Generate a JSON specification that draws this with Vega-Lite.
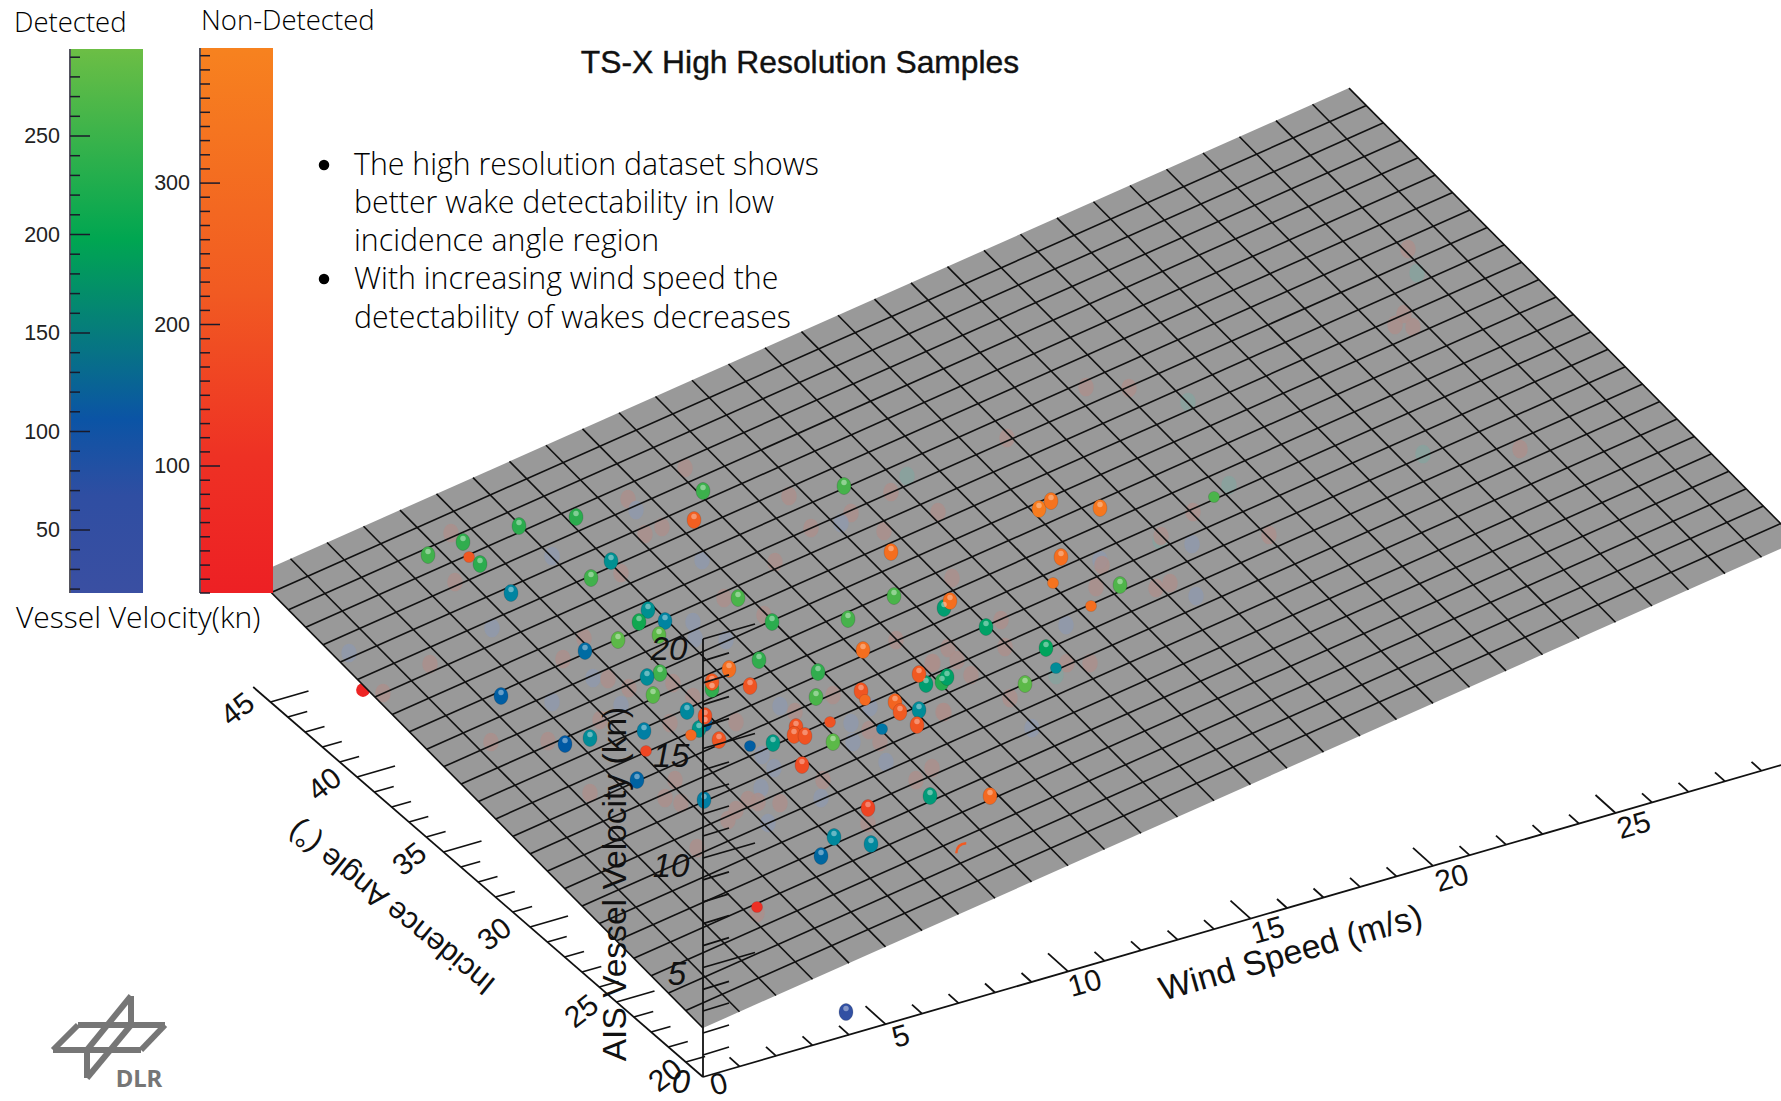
{"$schema":"https://vega.github.io/schema/vega-lite/v6.json","width":1781,"height":1101,"autosize":{"type":"none"},"padding":0,"background":"white","view":{"stroke":null},
"datasets":{
"gridRows":[
{"px":254,"py":575,"px2":703,"py2":1028},{"px":290.5,"py":558.8,"px2":739.5,"py2":1011.8},{"px":327,"py":542.5,"px2":776,"py2":995.5},{"px":363.5,"py":526.3,"px2":812.5,"py2":979.3},{"px":400,"py":510.1,"px2":849,"py2":963.1},{"px":436.5,"py":493.9,"px2":885.5,"py2":946.9},{"px":473,"py":477.6,"px2":922,"py2":930.6},{"px":509.5,"py":461.4,"px2":958.5,"py2":914.4},{"px":546,"py":445.2,"px2":995,"py2":898.2},{"px":582.5,"py":428.9,"px2":1031.5,"py2":881.9},{"px":619,"py":412.7,"px2":1068,"py2":865.7},{"px":655.5,"py":396.5,"px2":1104.5,"py2":849.5},{"px":692,"py":380.2,"px2":1141,"py2":833.2},{"px":728.5,"py":364,"px2":1177.5,"py2":817},{"px":765,"py":347.8,"px2":1214,"py2":800.8},{"px":801.5,"py":331.6,"px2":1250.5,"py2":784.6},{"px":838,"py":315.3,"px2":1287,"py2":768.3},{"px":874.5,"py":299.1,"px2":1323.5,"py2":752.1},{"px":911,"py":282.9,"px2":1360,"py2":735.9},{"px":947.5,"py":266.6,"px2":1396.5,"py2":719.6},{"px":984,"py":250.4,"px2":1433,"py2":703.4},{"px":1020.5,"py":234.2,"px2":1469.5,"py2":687.2},{"px":1057,"py":217.9,"px2":1506,"py2":670.9},{"px":1093.5,"py":201.7,"px2":1542.5,"py2":654.7},{"px":1130,"py":185.5,"px2":1579,"py2":638.5},{"px":1166.5,"py":169.3,"px2":1615.5,"py2":622.3},{"px":1203,"py":153,"px2":1652,"py2":606},{"px":1239.5,"py":136.8,"px2":1688.5,"py2":589.8},{"px":1276,"py":120.6,"px2":1725,"py2":573.6},{"px":1312.5,"py":104.3,"px2":1761.5,"py2":557.3},{"px":1349,"py":88.1,"px2":1798,"py2":541.1},
{"px":271.3,"py":592.4,"px2":1366.3,"py2":105.4},{"px":288.5,"py":609.8,"px2":1383.5,"py2":122.8},{"px":305.8,"py":627.3,"px2":1400.8,"py2":140.3},{"px":323.1,"py":644.7,"px2":1418.1,"py2":157.7},{"px":340.4,"py":662.1,"px2":1435.4,"py2":175.1},{"px":357.6,"py":679.5,"px2":1452.6,"py2":192.5},{"px":374.9,"py":696.9,"px2":1469.9,"py2":209.9},{"px":392.2,"py":714.4,"px2":1487.2,"py2":227.4},{"px":409.4,"py":731.8,"px2":1504.4,"py2":244.8},{"px":426.7,"py":749.2,"px2":1521.7,"py2":262.2},{"px":444,"py":766.6,"px2":1539,"py2":279.6},{"px":461.2,"py":784,"px2":1556.2,"py2":297},{"px":478.5,"py":801.5,"px2":1573.5,"py2":314.5},{"px":495.8,"py":818.9,"px2":1590.8,"py2":331.9},{"px":513.1,"py":836.3,"px2":1608.1,"py2":349.3},{"px":530.3,"py":853.7,"px2":1625.3,"py2":366.7},{"px":547.6,"py":871.1,"px2":1642.6,"py2":384.1},{"px":564.9,"py":888.6,"px2":1659.9,"py2":401.6},{"px":582.1,"py":906,"px2":1677.1,"py2":419},{"px":599.4,"py":923.4,"px2":1694.4,"py2":436.4},{"px":616.7,"py":940.8,"px2":1711.7,"py2":453.8},{"px":633.9,"py":958.2,"px2":1728.9,"py2":471.2},{"px":651.2,"py":975.7,"px2":1746.2,"py2":488.7},{"px":668.5,"py":993.1,"px2":1763.5,"py2":506.1},{"px":685.8,"py":1010.5,"px2":1780.8,"py2":523.5}
],
"axisRows":[
{"px":703,"py":1077,"px2":1798,"py2":760.2},{"px":703,"py":1077,"px2":253.2,"py2":687},{"px":703,"py":1077,"px2":703,"py2":639},
{"px":739.5,"py":1066.4,"px2":729.5,"py2":1057.4},{"px":776,"py":1055.9,"px2":766,"py2":1046.9},{"px":812.5,"py":1045.3,"px2":802.5,"py2":1036.3},{"px":849,"py":1034.8,"px2":839,"py2":1025.8},{"px":885.5,"py":1024.2,"px2":865.5,"py2":1006.2},{"px":922,"py":1013.6,"px2":912,"py2":1004.6},{"px":958.5,"py":1003.1,"px2":948.5,"py2":994.1},{"px":995,"py":992.5,"px2":985,"py2":983.5},{"px":1031.5,"py":982,"px2":1021.5,"py2":973},{"px":1068,"py":971.4,"px2":1048,"py2":953.4},{"px":1104.5,"py":960.8,"px2":1094.5,"py2":951.8},{"px":1141,"py":950.3,"px2":1131,"py2":941.3},{"px":1177.5,"py":939.7,"px2":1167.5,"py2":930.7},{"px":1214,"py":929.2,"px2":1204,"py2":920.2},{"px":1250.5,"py":918.6,"px2":1230.5,"py2":900.6},{"px":1287,"py":908,"px2":1277,"py2":899},{"px":1323.5,"py":897.5,"px2":1313.5,"py2":888.5},{"px":1360,"py":886.9,"px2":1350,"py2":877.9},{"px":1396.5,"py":876.4,"px2":1386.5,"py2":867.4},{"px":1433,"py":865.8,"px2":1413,"py2":847.8},{"px":1469.5,"py":855.2,"px2":1459.5,"py2":846.2},{"px":1506,"py":844.7,"px2":1496,"py2":835.7},{"px":1542.5,"py":834.1,"px2":1532.5,"py2":825.1},{"px":1579,"py":823.6,"px2":1569,"py2":814.6},{"px":1615.5,"py":813,"px2":1595.5,"py2":795},{"px":1652,"py":802.4,"px2":1642,"py2":793.4},{"px":1688.5,"py":791.9,"px2":1678.5,"py2":782.9},{"px":1725,"py":781.3,"px2":1715,"py2":772.3},{"px":1761.5,"py":770.8,"px2":1751.5,"py2":761.8},
{"px":685.7,"py":1062,"px2":705.1,"py2":1056.5},{"px":668.4,"py":1047,"px2":687.8,"py2":1041.5},{"px":651.1,"py":1032,"px2":670.5,"py2":1026.5},{"px":633.8,"py":1017,"px2":653.2,"py2":1011.5},{"px":616.5,"py":1002,"px2":654.5,"py2":991},{"px":599.2,"py":987,"px2":618.6,"py2":981.5},{"px":581.9,"py":972,"px2":601.3,"py2":966.5},{"px":564.6,"py":957,"px2":584,"py2":951.5},{"px":547.3,"py":942,"px2":566.7,"py2":936.5},{"px":530,"py":927,"px2":568,"py2":916},{"px":512.7,"py":912,"px2":532.1,"py2":906.5},{"px":495.4,"py":897,"px2":514.8,"py2":891.5},{"px":478.1,"py":882,"px2":497.5,"py2":876.5},{"px":460.8,"py":867,"px2":480.2,"py2":861.5},{"px":443.5,"py":852,"px2":481.5,"py2":841},{"px":426.2,"py":837,"px2":445.6,"py2":831.5},{"px":408.9,"py":822,"px2":428.3,"py2":816.5},{"px":391.6,"py":807,"px2":411,"py2":801.5},{"px":374.3,"py":792,"px2":393.7,"py2":786.5},{"px":357,"py":777,"px2":395,"py2":766},{"px":339.7,"py":762,"px2":359.1,"py2":756.5},{"px":322.4,"py":747,"px2":341.8,"py2":741.5},{"px":305.1,"py":732,"px2":324.5,"py2":726.5},{"px":287.8,"py":717,"px2":307.2,"py2":711.5},{"px":270.5,"py":702,"px2":308.5,"py2":691},
{"px":703,"py":1055,"px2":729,"py2":1047},{"px":703,"py":1033,"px2":729,"py2":1025},{"px":703,"py":1011,"px2":729,"py2":1003},{"px":703,"py":989.4,"px2":729,"py2":981.4},{"px":703,"py":967.5,"px2":755,"py2":952.5},{"px":703,"py":945.6,"px2":729,"py2":937.6},{"px":703,"py":923.7,"px2":729,"py2":915.7},{"px":703,"py":901.8,"px2":729,"py2":893.8},{"px":703,"py":879.9,"px2":729,"py2":871.9},{"px":703,"py":858,"px2":755,"py2":843},{"px":703,"py":836,"px2":729,"py2":828},{"px":703,"py":814,"px2":729,"py2":806},{"px":703,"py":792,"px2":729,"py2":784},{"px":703,"py":770,"px2":729,"py2":762},{"px":703,"py":748.5,"px2":755,"py2":733.5},{"px":703,"py":726.6,"px2":729,"py2":718.6},{"px":703,"py":704.7,"px2":729,"py2":696.7},{"px":703,"py":682.8,"px2":729,"py2":674.8},{"px":703,"py":660.9,"px2":729,"py2":652.9},{"px":703,"py":639,"px2":755,"py2":624}
],
"barTicks":[
{"px":70,"py":49,"px2":70,"py2":593},{"px":200,"py":48,"px2":200,"py2":593},
{"px":70,"py":57.2,"px2":80,"py2":57.2},{"px":70,"py":76.9,"px2":80,"py2":76.9},{"px":70,"py":96.6,"px2":80,"py2":96.6},{"px":70,"py":116.3,"px2":80,"py2":116.3},{"px":70,"py":136,"px2":90,"py2":136},{"px":70,"py":155.7,"px2":80,"py2":155.7},{"px":70,"py":175.4,"px2":80,"py2":175.4},{"px":70,"py":195.1,"px2":80,"py2":195.1},{"px":70,"py":214.8,"px2":80,"py2":214.8},{"px":70,"py":234.5,"px2":90,"py2":234.5},{"px":70,"py":254.2,"px2":80,"py2":254.2},{"px":70,"py":273.9,"px2":80,"py2":273.9},{"px":70,"py":293.6,"px2":80,"py2":293.6},{"px":70,"py":313.3,"px2":80,"py2":313.3},{"px":70,"py":333,"px2":90,"py2":333},{"px":70,"py":352.7,"px2":80,"py2":352.7},{"px":70,"py":372.4,"px2":80,"py2":372.4},{"px":70,"py":392.1,"px2":80,"py2":392.1},{"px":70,"py":411.8,"px2":80,"py2":411.8},{"px":70,"py":431.5,"px2":90,"py2":431.5},{"px":70,"py":451.2,"px2":80,"py2":451.2},{"px":70,"py":470.9,"px2":80,"py2":470.9},{"px":70,"py":490.6,"px2":80,"py2":490.6},{"px":70,"py":510.3,"px2":80,"py2":510.3},{"px":70,"py":530,"px2":90,"py2":530},{"px":70,"py":549.7,"px2":80,"py2":549.7},{"px":70,"py":569.4,"px2":80,"py2":569.4},{"px":70,"py":589.1,"px2":80,"py2":589.1},
{"px":200,"py":55.7,"px2":210,"py2":55.7},{"px":200,"py":69.9,"px2":210,"py2":69.9},{"px":200,"py":84,"px2":210,"py2":84},{"px":200,"py":98.2,"px2":210,"py2":98.2},{"px":200,"py":112.3,"px2":210,"py2":112.3},{"px":200,"py":126.5,"px2":210,"py2":126.5},{"px":200,"py":140.6,"px2":210,"py2":140.6},{"px":200,"py":154.8,"px2":210,"py2":154.8},{"px":200,"py":168.9,"px2":210,"py2":168.9},{"px":200,"py":183.1,"px2":220,"py2":183.1},{"px":200,"py":197.2,"px2":210,"py2":197.2},{"px":200,"py":211.4,"px2":210,"py2":211.4},{"px":200,"py":225.5,"px2":210,"py2":225.5},{"px":200,"py":239.7,"px2":210,"py2":239.7},{"px":200,"py":253.8,"px2":210,"py2":253.8},{"px":200,"py":268,"px2":210,"py2":268},{"px":200,"py":282.1,"px2":210,"py2":282.1},{"px":200,"py":296.3,"px2":210,"py2":296.3},{"px":200,"py":310.4,"px2":210,"py2":310.4},{"px":200,"py":324.5,"px2":220,"py2":324.5},{"px":200,"py":338.7,"px2":210,"py2":338.7},{"px":200,"py":352.8,"px2":210,"py2":352.8},{"px":200,"py":367,"px2":210,"py2":367},{"px":200,"py":381.1,"px2":210,"py2":381.1},{"px":200,"py":395.3,"px2":210,"py2":395.3},{"px":200,"py":409.4,"px2":210,"py2":409.4},{"px":200,"py":423.6,"px2":210,"py2":423.6},{"px":200,"py":437.7,"px2":210,"py2":437.7},{"px":200,"py":451.9,"px2":210,"py2":451.9},{"px":200,"py":466,"px2":220,"py2":466},{"px":200,"py":480.2,"px2":210,"py2":480.2},{"px":200,"py":494.3,"px2":210,"py2":494.3},{"px":200,"py":508.5,"px2":210,"py2":508.5},{"px":200,"py":522.6,"px2":210,"py2":522.6},{"px":200,"py":536.8,"px2":210,"py2":536.8},{"px":200,"py":550.9,"px2":210,"py2":550.9},{"px":200,"py":565.1,"px2":210,"py2":565.1},{"px":200,"py":579.2,"px2":210,"py2":579.2},{"px":200,"py":593,"px2":210,"py2":593}
],
"logoRows":[
{"px":53,"py":1050,"px2":78,"py2":1025},{"px":78,"py":1025,"px2":165,"py2":1025},{"px":165,"py":1025,"px2":141,"py2":1050},{"px":141,"py":1050,"px2":53,"py2":1050},{"px":131,"py":996,"px2":87,"py2":1050},{"px":131,"py":996,"px2":131,"py2":1025},{"px":87,"py":1050,"px2":87,"py2":1078},{"px":87,"py":1078,"px2":131,"py2":1025}
],
"ghosts":[
{"px":685,"py":468,"hue":"non"},{"px":628,"py":499,"hue":"non"},{"px":636,"py":510,"hue":"blue"},{"px":645,"py":534,"hue":"non"},{"px":662,"py":527,"hue":"non"},{"px":789,"py":496,"hue":"non"},{"px":907,"py":476,"hue":"teal"},{"px":891,"py":492,"hue":"non"},{"px":851,"py":513,"hue":"non"},{"px":841,"py":523,"hue":"blue"},{"px":811,"py":528,"hue":"non"},{"px":884,"py":531,"hue":"non"},{"px":938,"py":512,"hue":"non"},{"px":451,"py":533,"hue":"non"},{"px":455,"py":582,"hue":"non"},{"px":552,"py":556,"hue":"blue"},{"px":621,"py":573,"hue":"non"},{"px":702,"py":560,"hue":"blue"},{"px":775,"py":562,"hue":"non"},{"px":724,"py":598,"hue":"non"},{"px":764,"py":615,"hue":"non"},{"px":693,"py":622,"hue":"blue"},{"px":952,"py":578,"hue":"non"},{"px":1001,"py":620,"hue":"non"},{"px":896,"py":640,"hue":"non"},{"px":948,"py":648,"hue":"non"},{"px":932,"py":663,"hue":"non"},{"px":957,"py":660,"hue":"non"},{"px":971,"py":675,"hue":"non"},{"px":1005,"py":647,"hue":"non"},{"px":492,"py":628,"hue":"blue"},{"px":430,"py":664,"hue":"non"},{"px":563,"py":659,"hue":"non"},{"px":584,"py":638,"hue":"non"},{"px":593,"py":678,"hue":"blue"},{"px":608,"py":679,"hue":"non"},{"px":629,"py":688,"hue":"non"},{"px":695,"py":638,"hue":"blue"},{"px":726,"py":640,"hue":"blue"},{"px":673,"py":683,"hue":"non"},{"px":693,"py":697,"hue":"non"},{"px":552,"py":702,"hue":"blue"},{"px":621,"py":705,"hue":"blue"},{"px":600,"py":720,"hue":"non"},{"px":548,"py":741,"hue":"non"},{"px":491,"py":742,"hue":"non"},{"px":736,"py":722,"hue":"non"},{"px":670,"py":723,"hue":"non"},{"px":780,"py":706,"hue":"blue"},{"px":795,"py":712,"hue":"non"},{"px":833,"py":695,"hue":"non"},{"px":870,"py":707,"hue":"blue"},{"px":851,"py":723,"hue":"blue"},{"px":869,"py":730,"hue":"non"},{"px":853,"py":742,"hue":"blue"},{"px":880,"py":742,"hue":"non"},{"px":886,"py":762,"hue":"blue"},{"px":944,"py":712,"hue":"non"},{"px":762,"py":755,"hue":"blue"},{"px":774,"py":768,"hue":"blue"},{"px":932,"py":768,"hue":"non"},{"px":916,"py":780,"hue":"non"},{"px":823,"py":780,"hue":"non"},{"px":821,"py":798,"hue":"blue"},{"px":761,"py":788,"hue":"blue"},{"px":675,"py":780,"hue":"non"},{"px":590,"py":793,"hue":"non"},{"px":665,"py":798,"hue":"non"},{"px":681,"py":803,"hue":"non"},{"px":748,"py":800,"hue":"non"},{"px":758,"py":802,"hue":"non"},{"px":780,"py":803,"hue":"non"},{"px":736,"py":810,"hue":"non"},{"px":728,"py":820,"hue":"non"},{"px":768,"py":823,"hue":"blue"},{"px":868,"py":823,"hue":"non"},{"px":697,"py":848,"hue":"non"},{"px":1408,"py":249,"hue":"non"},{"px":1417,"py":273,"hue":"teal"},{"px":1404,"py":314,"hue":"non"},{"px":1395,"py":325,"hue":"non"},{"px":1413,"py":327,"hue":"non"},{"px":1086,"py":387,"hue":"non"},{"px":1129,"py":388,"hue":"non"},{"px":1188,"py":402,"hue":"teal"},{"px":1007,"py":438,"hue":"non"},{"px":1423,"py":454,"hue":"teal"},{"px":1520,"py":449,"hue":"non"},{"px":1229,"py":485,"hue":"teal"},{"px":1193,"py":512,"hue":"non"},{"px":1160,"py":540,"hue":"teal"},{"px":1192,"py":544,"hue":"blue"},{"px":1269,"py":535,"hue":"non"},{"px":1100,"py":560,"hue":"blue"},{"px":1032,"py":728,"hue":"blue"},{"px":1010,"py":698,"hue":"non"},{"px":943,"py":712,"hue":"non"},{"px":1090,"py":663,"hue":"non"},{"px":1067,"py":663,"hue":"non"},{"px":1056,"py":675,"hue":"teal"},{"px":933,"py":663,"hue":"non"},{"px":1156,"py":588,"hue":"non"},{"px":1170,"py":583,"hue":"non"},{"px":1196,"py":596,"hue":"blue"},{"px":1102,"py":565,"hue":"non"},{"px":1096,"py":587,"hue":"non"},{"px":1161,"py":536,"hue":"non"},{"px":1066,"py":625,"hue":"blue"},{"px":349,"py":653,"hue":"blue"},{"px":383,"py":693,"hue":"non"},{"px":757,"py":913,"hue":"non"}
],
"detected":[
{"px":428,"py":555,"velocity":240},{"px":463,"py":542,"velocity":225},{"px":480,"py":564,"velocity":220},{"px":519,"py":526,"velocity":220},{"px":576,"py":517,"velocity":220},{"px":703,"py":491,"velocity":235},{"px":844,"py":486,"velocity":245},{"px":611,"py":561,"velocity":165},{"px":591,"py":578,"velocity":240},{"px":511,"py":593,"velocity":150},{"px":738,"py":598,"velocity":250},{"px":894,"py":596,"velocity":250},{"px":944,"py":608,"velocity":185},{"px":986,"py":627,"velocity":190},{"px":848,"py":619,"velocity":245},{"px":772,"py":622,"velocity":220},{"px":648,"py":610,"velocity":165},{"px":639,"py":622,"velocity":205},{"px":665,"py":621,"velocity":150},{"px":659,"py":635,"velocity":270},{"px":618,"py":640,"velocity":270},{"px":585,"py":651,"velocity":125},{"px":759,"py":660,"velocity":225},{"px":818,"py":672,"velocity":225},{"px":660,"py":673,"velocity":240},{"px":647,"py":677,"velocity":160},{"px":926,"py":684,"velocity":185},{"px":942,"py":682,"velocity":215},{"px":947,"py":677,"velocity":190},{"px":712,"py":689,"velocity":225},{"px":653,"py":695,"velocity":265},{"px":501,"py":696,"velocity":110},{"px":816,"py":697,"velocity":250},{"px":919,"py":710,"velocity":160},{"px":687,"py":711,"velocity":155},{"px":705,"py":723,"velocity":115},{"px":699,"py":729,"velocity":170},{"px":644,"py":731,"velocity":145},{"px":590,"py":738,"velocity":160},{"px":565,"py":744,"velocity":105},{"px":773,"py":743,"velocity":175},{"px":833,"py":742,"velocity":270},{"px":637,"py":780,"velocity":115},{"px":704,"py":800,"velocity":145},{"px":930,"py":796,"velocity":180},{"px":834,"py":837,"velocity":155},{"px":871,"py":844,"velocity":155},{"px":821,"py":856,"velocity":120},{"px":1025,"py":684,"velocity":270},{"px":1046,"py":648,"velocity":195},{"px":1120,"py":585,"velocity":255},{"px":846,"py":1012,"velocity":40}
],
"detectedSmall":[
{"px":882,"py":729,"velocity":135},{"px":750,"py":746,"velocity":110},{"px":1056,"py":668,"velocity":160},{"px":1214,"py":497,"velocity":250}
],
"nonDetected":[
{"px":694,"py":520,"velocity":310},{"px":891,"py":552,"velocity":340},{"px":950,"py":601,"velocity":340},{"px":863,"py":650,"velocity":340},{"px":729,"py":669,"velocity":340},{"px":750,"py":686,"velocity":260},{"px":919,"py":674,"velocity":300},{"px":712,"py":682,"velocity":300},{"px":861,"py":691,"velocity":270},{"px":895,"py":702,"velocity":320},{"px":900,"py":712,"velocity":300},{"px":705,"py":716,"velocity":230},{"px":917,"py":725,"velocity":270},{"px":719,"py":740,"velocity":270},{"px":796,"py":727,"velocity":250},{"px":794,"py":735,"velocity":270},{"px":805,"py":736,"velocity":250},{"px":802,"py":765,"velocity":210},{"px":990,"py":796,"velocity":330},{"px":868,"py":808,"velocity":170},{"px":1061,"py":557,"velocity":340},{"px":1039,"py":509,"velocity":370},{"px":1051,"py":501,"velocity":350},{"px":1100,"py":508,"velocity":360}
],
"nonDetectedSmall":[
{"px":469,"py":557,"velocity":280},{"px":865,"py":700,"velocity":330},{"px":691,"py":735,"velocity":330},{"px":830,"py":722,"velocity":250},{"px":646,"py":751,"velocity":180},{"px":1053,"py":583,"velocity":350},{"px":1091,"py":606,"velocity":340},{"px":757,"py":907,"velocity":90}
]
},
"encoding":{
"x":{"field":"px","type":"quantitative","scale":{"domain":[0,1781],"nice":false,"zero":false},"axis":null},
"y":{"field":"py","type":"quantitative","scale":{"domain":[1101,0],"nice":false,"zero":false},"axis":null}
},
"layer":[
{"data":{"values":[{"px":363,"py":690,"velocity":30}]},"mark":{"type":"point","filled":true,"opacity":1,"size":190},"encoding":{"color":{"field":"velocity","type":"quantitative","legend":null,"scale":{"domain":[10,100,200,300,390],"range":["#ED2024","#EE3124","#EF4A23","#F15A22","#F8851F"]}}}},
{"data":{"values":[{"px":254,"py":575,"pyTop":575},{"px":703,"py":375.3,"pyTop":1028},{"px":1349,"py":88,"pyTop":740.7},{"px":1798,"py":541,"pyTop":541}]},"mark":{"type":"area","color":"#999999","opacity":1,"clip":true},"encoding":{"y2":{"field":"pyTop"}}},
{"data":{"name":"ghosts"},"mark":{"type":"point","filled":true,"opacity":0.8,"size":290,"shape":"M0,-1.1 A0.9,1.1 0 1 1 0,1.1 A0.9,1.1 0 1 1 0,-1.1 Z"},"encoding":{"color":{"field":"hue","type":"nominal","legend":null,"scale":{"domain":["non","blue","teal"],"range":["#ab8f8b","#8f98ad","#86a29d"]}}}},
{"data":{"name":"gridRows"},"mark":{"type":"rule","color":"#111111","strokeWidth":1.6,"clip":true},"encoding":{"x2":{"field":"px2"},"y2":{"field":"py2"}}},
{"data":{"name":"detected"},"mark":{"type":"point","filled":true,"opacity":1,"size":240,"shape":"M0,-1.1 A0.9,1.1 0 1 1 0,1.1 A0.9,1.1 0 1 1 0,-1.1 Z","stroke":"#000","strokeOpacity":0.15,"strokeWidth":1},"encoding":{"color":{"field":"velocity","type":"quantitative","legend":null,"scale":{"domain":[20,100,120,200,290],"range":["#3A4FA2","#0B54A5","#0067A0","#00A651","#6CBE45"]}}}},
{"data":{"name":"detectedSmall"},"mark":{"type":"point","filled":true,"opacity":1,"size":125,"stroke":"#000","strokeOpacity":0.12,"strokeWidth":1},"encoding":{"color":{"field":"velocity","type":"quantitative","legend":null,"scale":{"domain":[20,100,120,200,290],"range":["#3A4FA2","#0B54A5","#0067A0","#00A651","#6CBE45"]}}}},
{"data":{"name":"nonDetected"},"mark":{"type":"point","filled":true,"opacity":1,"size":240,"shape":"M0,-1.1 A0.9,1.1 0 1 1 0,1.1 A0.9,1.1 0 1 1 0,-1.1 Z","stroke":"#000","strokeOpacity":0.12,"strokeWidth":1},"encoding":{"color":{"field":"velocity","type":"quantitative","legend":null,"scale":{"domain":[10,100,200,300,390],"range":["#ED2024","#EE3124","#EF4A23","#F15A22","#F8851F"]}}}},
{"data":{"name":"nonDetectedSmall"},"mark":{"type":"point","filled":true,"opacity":1,"size":125,"stroke":"#000","strokeOpacity":0.1,"strokeWidth":1},"encoding":{"color":{"field":"velocity","type":"quantitative","legend":null,"scale":{"domain":[10,100,200,300,390],"range":["#ED2024","#EE3124","#EF4A23","#F15A22","#F8851F"]}}}},
{"data":{"name":"detected"},"mark":{"type":"point","filled":true,"color":"#ffffff","opacity":0.4,"size":30,"yOffset":-3.5}},
{"data":{"name":"nonDetected"},"mark":{"type":"point","filled":true,"color":"#ffffff","opacity":0.35,"size":30,"yOffset":-3.5}},
{"data":{"values":[{"px":961,"py":848}]},"mark":{"type":"point","filled":false,"shape":"M -0.9 1 Q -0.8 -0.8 1 -0.9","color":"#F15A22","strokeWidth":2.5,"opacity":1,"size":110}},
{"data":{"name":"axisRows"},"mark":{"type":"rule","color":"#111","strokeWidth":1.8},"encoding":{"x2":{"field":"px2"},"y2":{"field":"py2"}}},
{"data":{"values":[{"px":719,"py":1085,"label":"0"},{"px":901,"py":1037,"label":"5"},{"px":1085,"py":984,"label":"10"},{"px":1268,"py":931,"label":"15"},{"px":1452,"py":879,"label":"20"},{"px":1634,"py":826,"label":"25"}]},"mark":{"type":"text","font":"Liberation Sans","fontSize":30,"angle":344,"color":"#111","baseline":"middle","align":"center"},"encoding":{"text":{"field":"label"}}},
{"data":{"values":[{"px":238,"py":710,"label":"45"},{"px":325,"py":785,"label":"40"},{"px":410,"py":860,"label":"35"},{"px":495,"py":935,"label":"30"},{"px":582,"py":1012,"label":"25"},{"px":666,"py":1076,"label":"20"}]},"mark":{"type":"text","font":"Liberation Sans","fontSize":30,"angle":322,"color":"#111","baseline":"middle","align":"center"},"encoding":{"text":{"field":"label"}}},
{"data":{"values":[{"px":669,"py":650,"label":"20"},{"px":671,"py":757,"label":"15"},{"px":671,"py":867,"label":"10"},{"px":677,"py":975,"label":"5"},{"px":681,"py":1083,"label":"0"}]},"mark":{"type":"text","font":"Liberation Sans","fontSize":33,"fontStyle":"italic","color":"#111","baseline":"middle","align":"center"},"encoding":{"text":{"field":"label"}}},
{"data":{"values":[{"px":1291,"py":954,"label":"Wind Speed (m/s)"}]},"mark":{"type":"text","font":"Liberation Sans","fontSize":34,"angle":344,"color":"#111","baseline":"middle","align":"center"},"encoding":{"text":{"field":"label"}}},
{"data":{"values":[{"px":392,"py":907,"label":"Incidence Angle (°)"}]},"mark":{"type":"text","font":"Liberation Sans","fontSize":30.5,"angle":219,"color":"#111","baseline":"middle","align":"center"},"encoding":{"text":{"field":"label"}}},
{"data":{"values":[{"px":616,"py":884,"label":"AIS Vessel Velocity (kn)"}]},"mark":{"type":"text","font":"Liberation Sans","fontSize":33.6,"angle":270,"color":"#111","baseline":"middle","align":"center"},"encoding":{"text":{"field":"label"}}},
{"data":{"values":[{"px":71,"py":49,"px2":143,"py2":593}]},"mark":{"type":"rect","fill":{"gradient":"linear","x1":0,"y1":0,"x2":0,"y2":1,"stops":[{"offset":0,"color":"#6CBE45"},{"offset":0.35,"color":"#00A651"},{"offset":0.68,"color":"#0B54A5"},{"offset":0.82,"color":"#2F4EA2"},{"offset":1,"color":"#3A4FA2"}]}},"encoding":{"x2":{"field":"px2"},"y2":{"field":"py2"}}},
{"data":{"values":[{"px":201,"py":48,"px2":273,"py2":593}]},"mark":{"type":"rect","fill":{"gradient":"linear","x1":0,"y1":0,"x2":0,"y2":1,"stops":[{"offset":0,"color":"#F7821F"},{"offset":0.45,"color":"#F15A22"},{"offset":0.75,"color":"#EE3124"},{"offset":1,"color":"#ED2024"}]}},"encoding":{"x2":{"field":"px2"},"y2":{"field":"py2"}}},
{"data":{"name":"barTicks"},"mark":{"type":"rule","color":"#1a1a2a","strokeWidth":1.5},"encoding":{"x2":{"field":"px2"},"y2":{"field":"py2"}}},
{"data":{"values":[{"px":60,"py":137,"label":"250"},{"px":60,"py":235.5,"label":"200"},{"px":60,"py":334,"label":"150"},{"px":60,"py":432.5,"label":"100"},{"px":60,"py":531,"label":"50"},{"px":190,"py":184,"label":"300"},{"px":190,"py":325.5,"label":"200"},{"px":190,"py":467,"label":"100"}]},"mark":{"type":"text","font":"Liberation Sans","fontSize":21.5,"color":"#222","baseline":"middle","align":"right"},"encoding":{"text":{"field":"label"}}},
{"data":{"values":[{"px":14,"py":24,"label":"Detected"},{"px":201,"py":22,"label":"Non-Detected"}]},"mark":{"type":"text","font":"Open Sans","fontSize":27.5,"fontWeight":300,"color":"#000","baseline":"middle","align":"left"},"encoding":{"text":{"field":"label"}}},
{"data":{"values":[{"px":16,"py":619,"label":"Vessel Velocity(kn)"}]},"mark":{"type":"text","font":"Open Sans","fontSize":30,"fontWeight":300,"color":"#000","baseline":"middle","align":"left"},"encoding":{"text":{"field":"label"}}},
{"data":{"values":[{"px":800,"py":63,"label":"TS-X High Resolution Samples"}]},"mark":{"type":"text","font":"Liberation Sans","fontSize":31.8,"color":"#111","stroke":"#111","strokeWidth":0.4,"baseline":"middle","align":"center"},"encoding":{"text":{"field":"label"}}},
{"data":{"values":[{"px":324,"py":165},{"px":324,"py":279}]},"mark":{"type":"point","filled":true,"color":"#000","opacity":1,"size":110}},
{"data":{"values":[{"px":354,"py":166,"label":"The high resolution dataset shows"},{"px":354,"py":204,"label":"better wake detectability in low"},{"px":354,"py":242,"label":"incidence angle region"},{"px":354,"py":280,"label":"With increasing wind speed the"},{"px":354,"py":319,"label":"detectability of wakes decreases"}]},"mark":{"type":"text","font":"Open Sans","fontSize":30.3,"fontWeight":300,"color":"#000","baseline":"middle","align":"left"},"encoding":{"text":{"field":"label"}}},
{"data":{"name":"logoRows"},"mark":{"type":"rule","color":"#767676","strokeWidth":6},"encoding":{"x2":{"field":"px2"},"y2":{"field":"py2"}}},
{"data":{"values":[{"px":139,"py":1080,"label":"DLR"}]},"mark":{"type":"text","font":"Noto Sans","fontWeight":"bold","fontSize":24,"color":"#767676","baseline":"middle","align":"center"},"encoding":{"text":{"field":"label"}}}
],
"resolve":{"scale":{"color":"independent"}}
}
